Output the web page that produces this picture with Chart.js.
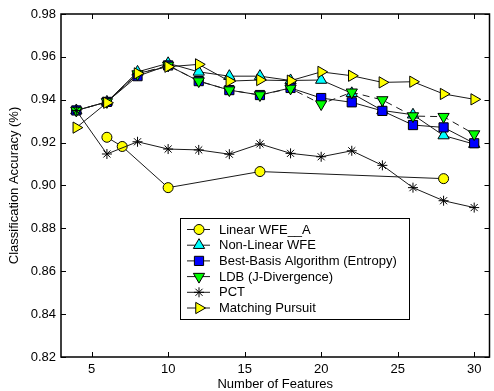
<!DOCTYPE html>
<html>
<head>
<meta charset="utf-8">
<script src="https://cdn.jsdelivr.net/npm/chart.js@4/dist/chart.umd.min.js"></script>
<style>
  html, body { margin: 0; padding: 0; background: #fff; overflow: hidden; }
  #wrap { width: 497px; height: 391px; }
</style>
</head>
<body>
<div id="wrap"><canvas id="myChart" width="497" height="391"></canvas></div>
<script>
// datos
var features = [4, 6, 8, 10, 12, 14, 16, 18, 20, 22, 24, 26, 28, 30];
var linearWfeX = [6, 7, 10, 16, 28];
var linearWfe = [0.9225, 0.9182, 0.899, 0.9065, 0.9032];
var nonLinearWfe = [0.935, 0.939, 0.953, 0.957, 0.953, 0.951, 0.951, 0.949, 0.9492, 0.943, 0.935, 0.933, 0.9233, 0.9193];
var bestBasis = [0.935, 0.939, 0.951, 0.956, 0.9487, 0.9445, 0.9422, 0.9455, 0.9408, 0.9388, 0.9348, 0.9282, 0.9271, 0.9197];
var ldb = [0.935, 0.939, 0.952, 0.956, 0.9487, 0.9445, 0.9422, 0.9453, 0.938, 0.9435, 0.9399, 0.9324, 0.9321, 0.924];
var pct = [0.935, 0.9147, 0.9204, 0.917, 0.9166, 0.9146, 0.9194, 0.915, 0.9134, 0.9162, 0.9094, 0.899, 0.8929, 0.8897];
var matchingPursuit = [0.927, 0.9386, 0.9523, 0.9554, 0.9565, 0.9487, 0.9492, 0.9489, 0.953, 0.9512, 0.9481, 0.9484, 0.9427, 0.9402];
var xTicks = [5, 10, 15, 20, 25, 30];
var yTicks = [0.82, 0.84, 0.86, 0.88, 0.9, 0.92, 0.94, 0.96, 0.98];

var fuente = "'Liberation Sans', Arial, sans-serif";

function puntos(xs, ys) {
    return xs.map(function (x, i) { return { x: x, y: ys[i] }; });
}

function serie(label, xs, ys, estilo, color, extra) {
    var ds = {
        label: label,
        data: puntos(xs, ys),
        borderColor: '#1a1a1a',
        borderWidth: 1,
        pointStyle: estilo,
        pointBackgroundColor: color,
        pointBorderColor: '#000',
        pointBorderWidth: 1,
        pointRadius: 6.5,
        tension: 0,
        fill: false
    };
    for (var k in extra) ds[k] = extra[k];
    return ds;
}

var datasets = [
    serie('Linear WFE__A', linearWfeX, linearWfe, 'circle', '#ffff00', { pointRadius: 5, order: 6 }),
    serie('Non-Linear WFE', features, nonLinearWfe, 'triangle', '#00ffff', { order: 5 }),
    serie('Best-Basis Algorithm (Entropy)', features, bestBasis, 'rect', '#0000ff', { pointRadius: 6.5, order: 4 }),
    serie('LDB (J-Divergence)', features, ldb, 'triangle', '#00ff00', { pointRotation: 180, borderDash: [7, 5], order: 3 }),
    serie('PCT', features, pct, 'star', '#000', { pointRadius: 5, order: 2 }),
    serie('Matching Pursuit', features, matchingPursuit, 'triangle', '#ffff00', { pointRotation: 90, order: 1 })
];

// marco con marcas hacia dentro (estilo matlab)
var marcoPlugin = {
    id: 'marco',
    beforeDatasetsDraw: function (chart) {
        var ctx = chart.ctx, a = chart.chartArea;
        var sx = chart.scales.x, sy = chart.scales.y;
        var L = 5;
        ctx.save();
        ctx.strokeStyle = '#000';
        ctx.lineWidth = 1;
        ctx.beginPath();
        xTicks.forEach(function (v) {
            var px = Math.round(sx.getPixelForValue(v)) + 0.5;
            ctx.moveTo(px, a.bottom); ctx.lineTo(px, a.bottom - L);
            ctx.moveTo(px, a.top); ctx.lineTo(px, a.top + L);
        });
        yTicks.forEach(function (v) {
            var py = Math.round(sy.getPixelForValue(v)) + 0.5;
            ctx.moveTo(a.left, py); ctx.lineTo(a.left + L, py);
            ctx.moveTo(a.right, py); ctx.lineTo(a.right - L, py);
        });
        ctx.stroke();
        ctx.lineWidth = 1.5;
        ctx.strokeRect(a.left, a.top, a.right - a.left, a.bottom - a.top);
        ctx.restore();
    }
};

// leyenda dentro del area del grafico
var leyendaPlugin = {
    id: 'leyenda',
    afterDraw: function (chart) {
        var ctx = chart.ctx;
        var x0 = 180.5, y0 = 218.5, w = 229, h = 101;
        var fila = 15.7;
        ctx.save();
        ctx.fillStyle = '#fff';
        ctx.fillRect(x0, y0, w, h);
        ctx.strokeStyle = '#000';
        ctx.lineWidth = 1;
        ctx.strokeRect(x0, y0, w, h);
        ctx.font = '13px ' + fuente;
        ctx.textBaseline = 'middle';
        chart.data.datasets.forEach(function (ds, i) {
            var y = y0 + 11 + i * fila;
            ctx.strokeStyle = '#1a1a1a';
            ctx.setLineDash([]);
            ctx.beginPath();
            ctx.moveTo(187, y); ctx.lineTo(210, y);
            ctx.stroke();
            ctx.fillStyle = ds.pointBackgroundColor;
            ctx.strokeStyle = '#000';
            Chart.helpers.drawPoint(ctx, {
                pointStyle: ds.pointStyle,
                rotation: ds.pointRotation || 0,
                radius: ds.pointRadius,
                borderWidth: 1
            }, 199, y);
            ctx.fillStyle = '#000';
            ctx.fillText(ds.label, 219, y + 0.5);
        });
        ctx.restore();
    }
};

var ctx = document.getElementById('myChart').getContext('2d');
var myChart = new Chart(ctx, {
    type: 'line',
    data: { datasets: datasets },
    options: {
        responsive: false,
        animation: false,
        layout: { padding: { top: 14, right: 0, left: 0, bottom: 0 } },
        plugins: {
            legend: { display: false },
            tooltip: { enabled: false }
        },
        scales: {
            x: {
                type: 'linear',
                min: 3,
                max: 31,
                grid: { display: false, drawTicks: false },
                border: { display: false },
                afterBuildTicks: function (s) { s.ticks = xTicks.map(function (v) { return { value: v }; }); },
                afterFit: function (s) { s.height = 34; },
                ticks: { color: '#000', padding: 5, font: { family: fuente, size: 13 }, maxRotation: 0 },
                title: {
                    display: true,
                    text: 'Number of Features',
                    color: '#000',
                    font: { family: fuente, size: 13, lineHeight: 1 },
                    padding: { top: 0, bottom: 0 }
                }
            },
            y: {
                type: 'linear',
                min: 0.82,
                max: 0.98,
                grid: { display: false, drawTicks: false },
                border: { display: false },
                afterBuildTicks: function (s) { s.ticks = yTicks.map(function (v) { return { value: v }; }); },
                afterFit: function (s) { s.width = 61; },
                ticks: {
                    color: '#000',
                    padding: 5,
                    font: { family: fuente, size: 13 },
                    callback: function (v) { return v.toFixed(2); }
                },
                title: {
                    display: true,
                    text: 'Classification Accuracy (%)',
                    color: '#000',
                    font: { family: fuente, size: 13, lineHeight: 1 },
                    padding: { top: 8, bottom: 0 }
                }
            }
        }
    },
    plugins: [marcoPlugin, leyendaPlugin]
});
</script>
</body>
</html>
